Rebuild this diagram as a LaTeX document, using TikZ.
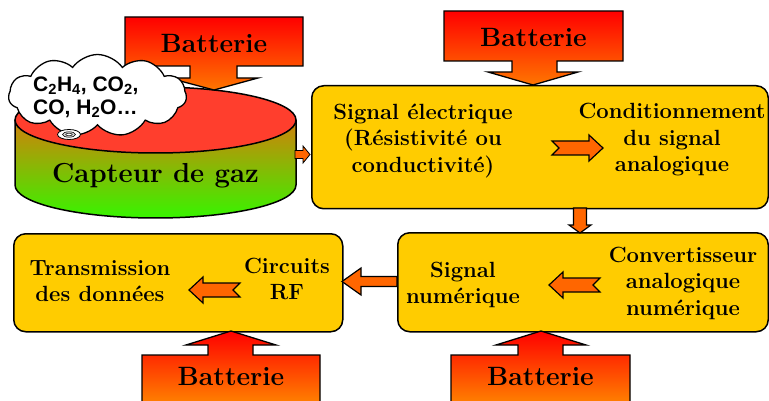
\documentclass[tikz,border=0pt]{standalone}
\usepackage{fontspec}
\setmainfont{Latin Modern Roman}
\newfontfamily\cloudfont{Liberation Sans}
\usetikzlibrary{shapes.symbols}
\definecolor{boxyellow}{RGB}{255,204,0}
\definecolor{arrorange}{RGB}{255,102,0}
\definecolor{batred}{RGB}{255,0,0}
\definecolor{batorange}{RGB}{255,118,0}
\definecolor{batorangeb}{RGB}{255,150,0}
\definecolor{topred}{RGB}{255,62,45}
\definecolor{sideorange}{RGB}{210,128,10}
\definecolor{sidegreen}{RGB}{55,245,0}
\tikzset{
  box/.style={draw=black, line width=1.5pt, fill=boxyellow, rounded corners=12pt, rectangle, anchor=north west, inner sep=0pt},
  lbl/.style={font=\fontsize{22}{26.5}\selectfont\bfseries, align=center, inner sep=0pt},
  batlbl/.style={font=\fontsize{26.5}{30}\selectfont\bfseries, inner sep=0pt, anchor=base},
  arr/.style={draw=black, line width=1.2pt, fill=arrorange, line join=miter},
  battery/.style={draw=black, line width=1.3pt, top color=batred, bottom color=batorange},
  batteryb/.style={draw=black, line width=1.3pt, top color=batred, bottom color=batorangeb},
}
\begin{document}
\begin{tikzpicture}[x=1pt,y=-1pt]
\useasboundingbox (0,0) rectangle (769,401);
\clip (0,0) rectangle (769,401);

% ---- Capteur (cylinder)
\fill[top color=sideorange, bottom color=sidegreen]
  (15,120) -- (15,185) arc[start angle=180, end angle=0, x radius=140.5, y radius=33]
  -- (296,120) arc[start angle=0, end angle=180, x radius=140.5, y radius=33] -- cycle;
\draw[line width=1.5pt] (15,120) -- (15,185) arc[start angle=180, end angle=0, x radius=140.5, y radius=33] -- (296,120);
\draw[line width=1.5pt, fill=topred] (155.5,120) ellipse [x radius=140.5, y radius=33];
\node[font=\fontsize{27.5}{30}\selectfont\bfseries, inner sep=0pt, anchor=base] (capteur) at (155.5,183) {Capteur de gaz};

% ---- Boxes
\node[box, minimum width=456.5pt, minimum height=123pt] (A) at (311,85) {};
\node[box, minimum width=370.5pt, minimum height=99pt] (B) at (397,232) {};
\node[box, minimum width=329pt, minimum height=98pt] (C) at (13,233) {};

\node[lbl] (sigel) at (423,141) {Signal électrique\\(Résistivité ou\\conductivité)};
\node[lbl] (cond) at (672,140) {Conditionnement\\du signal\\analogique};
\node[lbl] (signum) at (463,285) {Signal\\numérique};
\node[lbl] (conv) at (683,283) {Convertisseur\\analogique\\numérique};
\node[lbl] (trans) at (100,281) {Transmission\\des données};
\node[lbl] (rf) at (287,279) {Circuits\\RF};

% ---- inner notched arrows
\draw[arr] (552,141) -- (589,141) -- (589,135) -- (603,148) -- (589,161) -- (589,155) -- (552,155) -- (559,148) -- cycle;
\draw[arr] (600,278) -- (563,278) -- (563,272) -- (549,285) -- (563,298) -- (563,292) -- (600,292) -- (593,285) -- cycle;
\draw[arr] (240,283) -- (203,283) -- (203,277) -- (189,290) -- (203,303) -- (203,297) -- (240,297) -- (233,290) -- cycle;

% ---- connectors between blocks
\draw[arr, line width=0.8pt] (295,150.5) -- (303,150.5) -- (303,146) -- (310,154.5) -- (303,163) -- (303,158.5) -- (295,158.5) -- cycle;
\draw[arr] (573.5,208) -- (586.5,208) -- (586.5,225) -- (591,225) -- (580,233) -- (569,225) -- (573.5,225) -- cycle;
\draw[arr] (397,276.5) -- (361,276.5) -- (361,268) -- (342,281.5) -- (361,295) -- (361,286.5) -- (397,286.5) -- cycle;

% ---- Batteries
\draw[battery] (125,17) -- (303,17) -- (303,66) -- (237,66) -- (237,78) -- (258,78) -- (214,90)
  -- (169,78) -- (190,78) -- (190,66) -- (125,66) -- cycle;
\node[batlbl] (bat1) at (214,53) {Batterie};
\draw[battery] (444,11) -- (623,11) -- (623,61) -- (557,61) -- (557,72) -- (578,72) -- (533,85)
  -- (488,72) -- (512,72) -- (512,61) -- (444,61) -- cycle;
\node[batlbl] (bat2) at (533.5,47) {Batterie};
\draw[batteryb] (231,331) -- (276,345) -- (253,345) -- (253,355) -- (320,355) -- (320,415)
  -- (142,415) -- (142,355) -- (208,355) -- (208,345) -- (186,345) -- cycle;
\node[batlbl] (bat3) at (231,385) {Batterie};
\draw[batteryb] (541,331) -- (586,345) -- (563,345) -- (563,355) -- (630,355) -- (630,415)
  -- (451,415) -- (451,355) -- (518,355) -- (518,345) -- (496,345) -- cycle;
\node[batlbl] (bat4) at (540.5,385) {Batterie};

% ---- Cloud
\node[cloud, draw, line width=1.3pt, fill=white, cloud puffs=11, cloud puff arc=110, aspect=2.5,
      minimum width=178pt, minimum height=82pt, inner sep=0pt] (cloud) at (97.5,95.5) {};
\node[font=\cloudfont\fontsize{21}{23}\selectfont\bfseries, align=left, anchor=west, inner sep=0pt] (gas) at (33,97)
  {C\textsubscript{2}H\textsubscript{4}, CO\textsubscript{2},\\CO, H\textsubscript{2}O…};

% sensor icon / cloud tail
\draw[line width=0.8pt, fill=white] (69,134.5) ellipse [x radius=11.5, y radius=5];
\draw[line width=0.6pt, fill=gray!35] (69,134.5) ellipse [x radius=6.5, y radius=2.7];
\draw[line width=0.5pt, fill=white] (69,134.5) ellipse [x radius=3.2, y radius=1.3];
\end{tikzpicture}
\end{document}
